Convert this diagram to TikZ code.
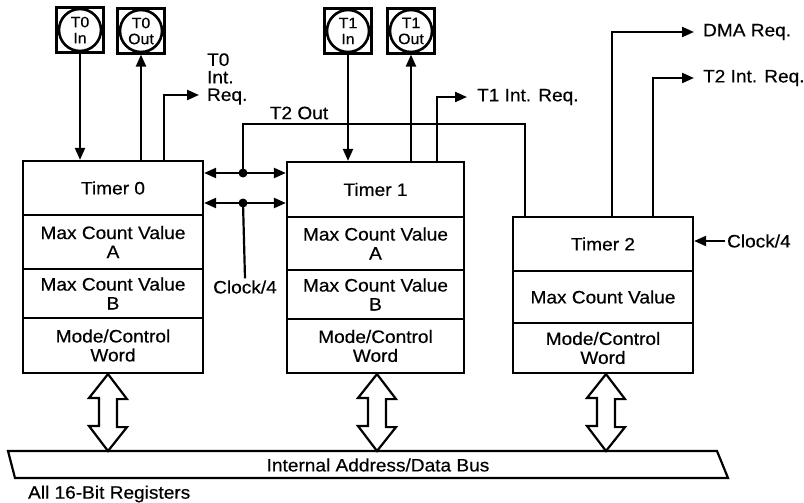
\documentclass[tikz,border=0pt]{standalone}
\usepackage{fontspec}
\setmainfont{Liberation Sans}[FakeStretch=1.06,FakeBold=0.4]
\usetikzlibrary{arrows.meta}
\begin{document}
\begin{tikzpicture}[x=1pt,y=-1pt,line width=2.2pt,
  >={Triangle[length=12pt,width=10pt]},
  cell/.style={draw,rectangle,inner sep=0pt,align=center,
    font=\fontsize{18}{19}\selectfont},
  cellA/.style={cell,minimum width=180pt},
  cellB/.style={cell,minimum width=177pt},
  lbl/.style={inner sep=1pt,align=left,font=\fontsize{18}{17.5}\selectfont},
  pinbox/.style={draw,rectangle,minimum width=47pt,minimum height=45pt,
    inner sep=0pt,align=center,font=\fontsize{15}{16}\selectfont},
  dot/.style={fill=black},
  busarrow/.style={draw,fill=white,line join=miter}]
\useasboundingbox (0,0) rectangle (804,503);

% ---------- Timer 0 ----------
\node[cellA,minimum height=54pt] (t0a) at (113,188) {Timer 0};
\node[cellA,minimum height=54pt] (t0b) at (113,242) {Max Count Value\\A};
\node[cellA,minimum height=49pt] (t0c) at (113,293.5) {Max Count Value\\B};
\node[cellA,minimum height=55pt] (t0d) at (113,345.5) {Mode/Control\\Word};

% ---------- Timer 1 ----------
\node[cellB,minimum height=55pt] (t1a) at (375.5,189.5) {Timer 1};
\node[cellB,minimum height=53pt] (t1b) at (375.5,243.5) {Max Count Value\\A};
\node[cellB,minimum height=49pt] (t1c) at (375.5,294.5) {Max Count Value\\B};
\node[cellB,minimum height=54pt] (t1d) at (375.5,346) {Mode/Control\\Word};

% ---------- Timer 2 ----------
\node[cellA,minimum height=54pt] (t2a) at (603,244) {Timer 2};
\node[cellA,minimum height=52pt] (t2b) at (603,297) {Max Count Value};
\node[cellA,minimum height=50pt] (t2c) at (603,348) {Mode/Control\\Word};

% ---------- pins ----------
\node[pinbox] (t0in) at (80,30) {T0\\In};
\node[pinbox] (t0out) at (141,31) {T0\\Out};
\node[pinbox] (t1in) at (348,31) {T1\\In};
\node[pinbox] (t1out) at (411,31) {T1\\Out};
\foreach \p in {t0in,t0out,t1in,t1out}{\draw[line width=2.6pt] (\p.center) circle (21pt);}

\draw[->] (t0in.south) -- (t0in.south |- t0a.north);
\draw[->] (t0out.south |- t0a.north) -- (t0out.south);
\draw[->] (t1in.south) -- (t1in.south |- t1a.north);
\draw[->] (t1out.south |- t1a.north) -- (t1out.south);

% ---------- interrupt requests ----------
\node[lbl,anchor=west] (t0req) at (205,79) {T0\\Int.\\Req.};
\coordinate (t0reqend) at (199,95);
\draw[->] ([xshift=51pt]t0a.north) |- (t0reqend);

\node[lbl,anchor=west] (t1req) at (475,97) {T1 Int. Req.};
\coordinate (t1reqend) at (467,97);
\draw[->] ([xshift=61.5pt]t1a.north) |- (t1reqend);

\node[lbl,anchor=west] (dma) at (701,32) {DMA Req.};
\coordinate (dmaend) at (694,32);
\draw[->] ([xshift=9pt]t2a.north) |- (dmaend);

\node[lbl,anchor=west] (t2req) at (701,78) {T2 Int. Req.};
\coordinate (t2reqend) at (694,78);
\draw[->] ([xshift=50pt]t2a.north) |- (t2reqend);

% ---------- clock to timer 2 ----------
\node[lbl,anchor=west] (clk2) at (725,241) {Clock/4};
\draw[->] (clk2.west) -- (t2a.east |- clk2.west);

% ---------- links between timer 0 and timer 1 ----------
\coordinate (j1) at (243,173);
\coordinate (j2) at (243,203);
\draw[<->] (t0a.east |- j1) -- (t1a.west |- j1);
\draw[<->] (t0a.east |- j2) -- (t1a.west |- j2);
\fill[dot] (j1) circle (4.5pt);
\fill[dot] (j2) circle (4.5pt);

\node[lbl] (t2out) at (299,113) {T2 Out};
\coordinate (t2corner) at (525,124);
\draw (j1) |- (t2corner) -- (t2corner |- t2a.north);

\node[lbl] (clk1) at (245,287) {Clock/4};
\draw (j2) -- (clk1.north);

% ---------- bus ----------
\coordinate (bustop) at (0,451);
\draw (8,451) -- (717,451) -- (728,478) -- (15,478) -- cycle;
\node[lbl] (bus) at (378,465) {Internal Address/Data Bus};
\node[lbl,anchor=west] (regs) at (26,494) {All 16-Bit Registers};

\foreach \b/\dx in {t0d/-5,t1d/1.5,t2c/3}{
  \draw[busarrow] ([xshift=\dx pt]\b.south) -- ++(19,25) -- ++(-10,0) -- ++(0,28)
    -- ++(10,0) -- ([xshift=\dx pt]\b.south |- bustop) -- ++(-19,-25) -- ++(10,0)
    -- ++(0,-28) -- ++(-10,0) -- cycle;
}
\end{tikzpicture}
\end{document}
